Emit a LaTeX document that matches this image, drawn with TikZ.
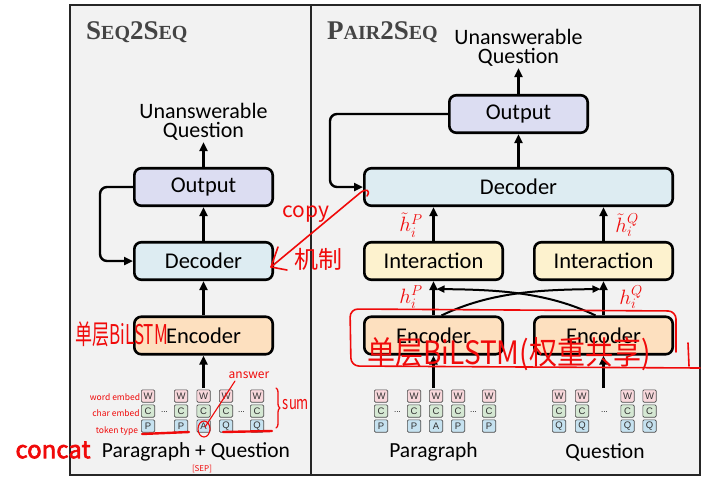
\documentclass[tikz,border=0pt]{standalone}
\usepackage{fontspec}
\newfontfamily\calfont{Carlito}
\newfontfamily\tokfont{Liberation Sans}
\newfontfamily\serfont{Liberation Serif}
\newfontfamily\hand{Noto Sans CJK SC}
\newfontfamily\handbold[FakeBold=2.5]{Noto Sans CJK SC}
\usetikzlibrary{arrows.meta,calc,decorations.pathreplacing}
\definecolor{panelbg}{HTML}{F2F2F2}
\definecolor{outc}{HTML}{DCDDF2}
\definecolor{decc}{HTML}{DDECF2}
\definecolor{encc}{HTML}{FDE0BF}
\definecolor{intc}{HTML}{FDF2CE}
\definecolor{wc}{HTML}{F8D7DB}
\definecolor{cc}{HTML}{D5E8D3}
\definecolor{pc}{HTML}{C6E2F0}
\definecolor{titlec}{HTML}{444444}
\definecolor{redink}{HTML}{F00A0A}
\newcommand\myBigC[1]{{\fontsize{27}{27}\selectfont #1}}
\newcommand\mySmC[1]{{\fontsize{20}{20}\selectfont #1}}
\newcommand\tokcol[3]{%
  \node[cell, fill=wc] (#1w) at (#2,396) {W};
  \node[cell, fill=cc] (#1c) at (#2,411) {C};
  \node[cell, fill=pc] (#1p) at (#2,426) {#3};}
\tikzset{
  box/.style={draw=black, line width=2.6pt, rounded corners=7pt,
    font=\calfont\fontsize{22.5}{24}\selectfont, minimum height=37.5pt,
    minimum width=138.4pt, inner sep=0pt},
  arr/.style={line width=2.4pt, -{Triangle[length=9pt,width=8pt]}},
  crossarr/.style={line width=2pt, -{Triangle[length=8pt,width=7pt]}},
  lbl/.style={font=\calfont\fontsize{22}{19.5}\selectfont, align=center, inner sep=1pt},
  plain/.style={font=\calfont\fontsize{21.5}{24}\selectfont, inner sep=0pt},
  cell/.style={draw=black!70, line width=0.7pt, rounded corners=1.2pt,
    minimum width=13.3pt, minimum height=12.3pt, inner sep=0pt,
    font=\tokfont\fontsize{9.5}{9.5}\selectfont, text=black!80},
  dots/.style={font=\tokfont\fontsize{8}{8}\selectfont, inner sep=0pt},
  title/.style={anchor=base west, inner sep=0pt, text=titlec, font=\serfont\bfseries},
  ink/.style={text=redink, inner sep=0pt},
  inkmath/.style={text=redink, inner sep=0pt, font=\fontsize{20}{20}\selectfont},
  inkline/.style={draw=redink, line width=1.6pt, line cap=round, line join=round},
}
\begin{document}
\begin{tikzpicture}[x=1pt,y=-1pt]
\useasboundingbox (0,0) rectangle (728,480);
% panels
\fill[panelbg] (70,5) rectangle (700,475);
\draw[line width=1.2pt, black!85] (70,5) rectangle (700,475);
\draw[line width=1.2pt, black!85] (311,5) -- (311,475);
\node[title] (t1) at (86,39) {\myBigC{S}\mySmC{EQ}\myBigC{2S}\mySmC{EQ}};
\node[title] (t2) at (327,39) {\myBigC{P}\mySmC{AIR}\myBigC{2S}\mySmC{EQ}};

% ---------- Seq2Seq ----------
\node[lbl] (uqL) at (203.5,122) {Unanswerable\\Question};
\node[box, fill=outc] (outL) at (203.5,187) {Output};
\node[box, fill=decc] (decL) at (203.5,261) {Decoder};
\node[box, fill=encc] (encL) at (203.5,335.5) {Encoder};
\draw[arr] (outL.north) -- (uqL.south);
\draw[arr] (decL.north) -- (outL.south);
\draw[arr] (encL.north) -- (decL.south);
\draw[arr, rounded corners=7pt] (outL.west) -- ++(-33,0) |- (decL.west);
\tokcol{a1}{148}{P}
\tokcol{a2}{181}{P}
\tokcol{a3}{203.5}{A}
\tokcol{a4}{226}{Q}
\tokcol{a5}{257}{Q}
\node[dots] (ad1) at (164.5,412) {...};
\node[dots] (ad2) at (241.5,412) {...};
\coordinate (inL) at (203.5,388);
\draw[arr] (inL) -- (encL.south);
\node[plain] (pqL) at (196,452) {Paragraph + Question};

% ---------- Pair2Seq ----------
\node[lbl] (uqR) at (518.5,48) {Unanswerable\\Question};
\node[box, fill=outc] (outR) at (518.5,114) {Output};
\node[box, fill=decc, minimum width=308.4pt] (decR) at (518.5,187) {Decoder};
\node[box, fill=intc] (intP) at (433.5,261) {Interaction};
\node[box, fill=intc] (intQ) at (603.5,261) {Interaction};
\node[box, fill=encc] (encP) at (433.5,335.5) {Encoder};
\node[box, fill=encc] (encQ) at (603.5,335.5) {Encoder};
\draw[arr] (outR.north) -- (uqR.south);
\draw[arr] (decR.north -| outR.south) -- (outR.south);
\draw[arr, rounded corners=7pt] (outR.west) -| ([xshift=-33pt]decR.west) -- (decR.west);
\draw[arr] (intP.north) -- (intP.north |- decR.south);
\draw[arr] (intQ.north) -- (intQ.north |- decR.south);
\draw[arr] (encP.north) -- (intP.south);
\draw[arr] (encQ.north) -- (intQ.south);
\draw[crossarr] ($(encP.north)+(8,0)$) .. controls (490,292) and (540,289.7) .. ($(intQ.south)+(-3,8)$);
\draw[crossarr] ($(encQ.north)+(-8,0)$) .. controls (547,292) and (497,289.7) .. ($(intP.south)+(3,8)$);
\tokcol{p1}{381}{P}
\tokcol{p2}{414}{P}
\tokcol{p3}{436}{A}
\tokcol{p4}{458}{P}
\tokcol{p5}{489}{P}
\node[dots] (pd1) at (397.5,412) {...};
\node[dots] (pd2) at (473.5,412) {...};
\tokcol{q1}{559}{Q}
\tokcol{q2}{582}{Q}
\tokcol{q3}{627.5}{Q}
\tokcol{q4}{649.5}{Q}
\node[dots] (qd1) at (604.5,412) {...};
\coordinate (inP) at (433.5,388);
\coordinate (inQ) at (603.5,388);
\draw[arr] (inP) -- (encP.south);
\draw[arr] (inQ) -- (encQ.south);
\node[plain] (parR) at (433.5,452) {Paragraph};
\node[plain] (queR) at (605,452) {Question};

% ---------- red handwritten notes ----------
\node[ink, font=\hand\fontsize{21}{21}\selectfont] (n1) at (306,214) {copy};
\node[ink, font=\hand\fontsize{24}{24}\selectfont] (n2) at (318,259) {机制};
\draw[inkline] (271,267) -- (360,193) .. controls (366,188) and (371,190) .. (367,196);
\draw[inkline] (278,247) -- (271,267) -- (287,270);
\node[ink, font=\hand\fontsize{17}{17}\selectfont, anchor=east] (n3) at (168,334) {\scalebox{1}[1.6]{单层BiLSTM}};
\node[ink, font=\hand\fontsize{28}{28}\selectfont] (n4) at (509,354) {\scalebox{1}[1.15]{单层BiLSTM(权重共享)}};
\draw[inkline, rounded corners=8pt] (676,352) -- (676,311) -- (350,309) -- (351,366) -- (700,368);
\draw[inkline] (688,343) -- (689,366);
\node[inkmath] (h1) at (411,225) {$\tilde{h}_i^{P}$};
\node[inkmath] (h2) at (627,225) {$\tilde{h}_i^{Q}$};
\node[inkmath] (h3) at (411,297) {$h_i^{P}$};
\node[inkmath] (h4) at (631,297) {$h_i^{Q}$};
\node[ink, font=\hand\fontsize{8.5}{8.5}\selectfont] (n5) at (115,397) {word embed};
\node[ink, font=\hand\fontsize{8.5}{8.5}\selectfont] (n6) at (116,413) {char embed};
\node[ink, font=\hand\fontsize{8.5}{8.5}\selectfont] (n7) at (117,431) {token type};
\node[ink, font=\hand\fontsize{12}{12}\selectfont] (n8) at (249,375) {answer};
\draw[inkline, line width=1.1pt] (235,381) -- (205,427);
\draw[inkline, line width=1.1pt] (204,429) ellipse [x radius=6, y radius=8];
\draw[inkline, line width=2.4pt] (142,434) -- (189,432);
\draw[inkline, line width=2.4pt] (223,432) -- (272,431);
\draw[inkline, line width=1.3pt, decorate, decoration={brace, amplitude=4pt}] (276,388) -- (276,428);
\node[ink, font=\hand\fontsize{13}{13}\selectfont] (n9) at (296,405) {\scalebox{1}[1.4]{sum}};
\node[ink, font=\handbold\fontsize{24}{24}\selectfont] (n10) at (53,450) {concat};
\node[ink, font=\hand\fontsize{8}{8}\selectfont] (n11) at (202,469) {[SEP]};
\end{tikzpicture}
\end{document}
